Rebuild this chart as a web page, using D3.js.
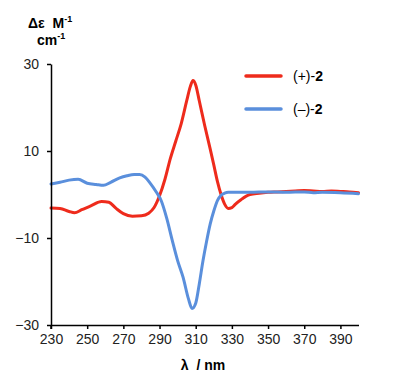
<!DOCTYPE html>
<html><head><meta charset="utf-8">
<script src="https://cdn.jsdelivr.net/npm/d3@7"></script>
<style>body{margin:0;background:#fff}svg{display:block}text{font-family:"Liberation Sans",Arial,sans-serif;white-space:pre}</style>
</head><body><svg id="c" width="395" height="381"></svg>
<script>
const xTicks = [230,250,270,290,310,330,350,370,390];
const yTicks = [30,10,-10,-30];
const seriesNames = ["(+)-2","(\u2013)-2"];
const seriesColors = ["#ee2b1c","#5a8fdc"];
const wlPlus = [230,235,240,243,247,252,258,262,266,270,275,280,284,287,290,293,296,299,302,305,307,308.5,310,312,315,318,320,322,324,326,328,330,332,335,340,345,350,355,360,365,370,375,380,385,390,395,400];
const cdPlus = [-3.1,-3.2,-3.9,-4.2,-3.5,-2.6,-1.6,-1.8,-3.2,-4.4,-5.0,-4.9,-4.3,-3.0,-0.3,3.5,8.3,12.3,16.3,21.5,24.8,26.2,25.2,21.5,15.8,10.5,6.8,3.0,0,-2.2,-3.2,-3.0,-2.2,-1.2,0,0.3,0.5,0.6,0.7,0.8,0.9,0.8,0.7,0.8,0.7,0.6,0.4];
const wlMinus = [230,235,240,245,250,255,259,263,268,272,276,279,282,285,288,291,294,297,300,303,306,308,310,312,314,316,318,320,322,324,326,328,330,340,350,360,370,375,380,390,400];
const cdMinus = [2.4,2.8,3.3,3.5,2.6,2.3,2.1,2.8,3.8,4.3,4.6,4.6,4.0,2.5,0.7,-1.5,-5.5,-10.5,-15.2,-19,-24,-26.2,-25,-20.5,-15.3,-10.8,-6.8,-3.8,-1.4,-0.2,0.3,0.5,0.5,0.5,0.6,0.5,0.6,0.4,0.5,0.4,0.2];

const svg = d3.select("#c");
const x = d3.scaleLinear().domain([230,400]).range([51,358.5]);
const y = d3.scaleLinear().domain([-30,30]).range([325,64]);

const line = d3.line().x(d=>x(d[0])).y(d=>y(d[1])).curve(d3.curveMonotoneX);
const dataSets = [d3.zip(wlPlus,cdPlus), d3.zip(wlMinus,cdMinus)];
dataSets.forEach((ds,i)=>{
  svg.append("path").datum(ds).attr("d",line).attr("fill","none")
    .attr("stroke",seriesColors[i]).attr("stroke-width",3).attr("stroke-linejoin","round").attr("stroke-linecap","round");
});

// axes
const xAxis = svg.append("g").attr("transform","translate(0,325)")
  .call(d3.axisBottom(x).tickValues(xTicks).tickSize(4).tickPadding(5).tickSizeOuter(0));
const yAxis = svg.append("g").attr("transform","translate(51,0)")
  .call(d3.axisLeft(y).tickValues(yTicks).tickSize(4).tickPadding(8).tickSizeOuter(0));
[xAxis,yAxis].forEach(g=>{
  g.select(".domain").attr("stroke","#000").attr("stroke-width",1.5);
  g.selectAll(".tick line").attr("stroke","#000").attr("stroke-width",1.5);
  g.selectAll(".tick text").attr("font-size",14).attr("fill","#222").attr("font-family","Liberation Sans, Arial, sans-serif");
});
svg.append("line").attr("x1",51).attr("x2",51).attr("y1",325).attr("y2",329).attr("stroke","#000").attr("stroke-width",1.5);

// axis titles
svg.append("text").attr("x",203).attr("y",370).attr("text-anchor","middle").attr("font-size",14).attr("font-weight","bold")
  .text("\u03bb  / nm");
const t1 = svg.append("text").attr("x",28).attr("y",28).attr("font-size",14).attr("font-weight","bold");
t1.append("tspan").text("\u0394\u03b5  M");
t1.append("tspan").attr("font-size",9).attr("dy",-6).text("-1");
const t2 = svg.append("text").attr("x",37).attr("y",45).attr("font-size",14).attr("font-weight","bold");
t2.append("tspan").text("cm");
t2.append("tspan").attr("font-size",9).attr("dy",-6).text("-1");

// legend
const legY = [76,109];
seriesNames.forEach((n,i)=>{
  svg.append("line").attr("x1",246).attr("x2",281).attr("y1",legY[i]).attr("y2",legY[i])
    .attr("stroke",seriesColors[i]).attr("stroke-width",3.5).attr("stroke-linecap","round");
  const t = svg.append("text").attr("x",293).attr("y",legY[i]+5).attr("font-size",14).attr("fill","#000");
  t.append("tspan").text(n.slice(0,-1));
  t.append("tspan").attr("font-weight","bold").text(n.slice(-1));
});
</script></body></html>
